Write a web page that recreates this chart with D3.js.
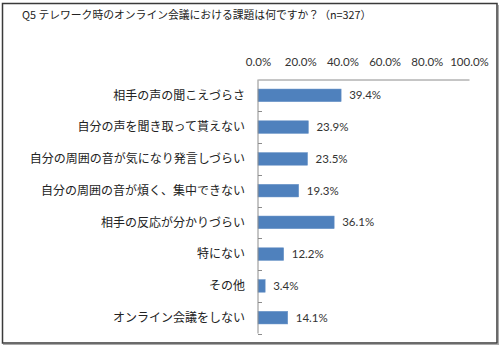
<!DOCTYPE html>
<html><head><meta charset="utf-8">
<script src="https://cdn.jsdelivr.net/npm/d3@7"></script>
<style>
html,body{margin:0;padding:0;background:#fff;}
svg{display:block;}
</style></head>
<body>
<svg id="chart" width="500" height="347"></svg>
<script>
const title = "Q5 テレワーク時のオンライン会議における課題は何ですか？（n=327）";
const categories = ["相手の声の聞こえづらさ","自分の声を聞き取って貰えない","自分の周囲の音が気になり発言しづらい","自分の周囲の音が煩く、集中できない","相手の反応が分かりづらい","特にない","その他","オンライン会議をしない"];
const values = [39.4, 23.9, 23.5, 19.3, 36.1, 12.2, 3.4, 14.1];
const tickValues = [0, 20, 40, 60, 80, 100];

const svg = d3.select("#chart");
const jp = "'Noto Sans CJK JP', sans-serif";
const num = "Lato, 'Noto Sans', sans-serif";

// frame
svg.append("rect").attr("x",2.5).attr("y",3.5).attr("width",494.5).attr("height",339.5)
  .attr("fill","#fff").attr("stroke","#3a3a3a").attr("stroke-width",1.5);
svg.append("line").attr("x1",3).attr("x2",498).attr("y1",344.5).attr("y2",344.5).attr("stroke","#aaa").attr("stroke-width",1);
svg.append("line").attr("x1",498.5).attr("x2",498.5).attr("y1",5).attr("y2",345).attr("stroke","#aaa").attr("stroke-width",1);

svg.append("text").attr("x",22).attr("y",19).attr("font-family",jp).attr("font-size",10.8)
  .attr("fill","#222").text(title);

const x = d3.scaleLinear().domain([0,100]).range([258,469]);
const y = d3.scaleBand().domain(categories).range([79.5,333.5]).paddingInner(0.6).paddingOuter(0.3);
const yb = d3.scaleBand().domain(categories).range([79.5,333.5]);

// top axis
const xa = svg.append("g").attr("transform","translate(0,79.5)")
  .call(d3.axisTop(x).tickValues(tickValues).tickSize(0).tickPadding(14).tickFormat(d=>d.toFixed(1)+"%"));
xa.select(".domain").attr("stroke","#8c8c8c");
xa.selectAll("text").attr("font-family",num).attr("font-size",11.5).attr("fill","#333");

// bars
svg.append("g").selectAll("rect").data(categories).join("rect")
  .attr("x",x(0)).attr("y",d=>y(d)).attr("width",(d,i)=>x(values[i])-x(0)).attr("height",y.bandwidth())
  .attr("fill","#4f81bd").attr("stroke","#6f97c9").attr("stroke-width",0.5);

// left axis
const ya = svg.append("g").attr("transform","translate(258,0)");
ya.append("line").attr("x1",0).attr("x2",0).attr("y1",79.5).attr("y2",333.5).attr("stroke","#8c8c8c");
ya.selectAll("line.t").data(categories).join("line").attr("class","t")
  .attr("x1",0).attr("x2",4).attr("y1",d=>Math.round(yb(d)+yb.bandwidth())+0.5).attr("y2",d=>Math.round(yb(d)+yb.bandwidth())+0.5)
  .attr("stroke","#8c8c8c");
ya.selectAll("text").data(categories).join("text")
  .attr("x",-13).attr("y",d=>yb(d)+yb.bandwidth()/2).attr("dy","0.35em")
  .attr("text-anchor","end").attr("font-family",jp).attr("font-size",12).attr("fill","#222").text(d=>d);

// value labels
svg.append("g").selectAll("text").data(categories).join("text")
  .attr("x",(d,i)=>x(values[i])+8).attr("y",d=>yb(d)+yb.bandwidth()/2).attr("dy","0.35em")
  .attr("font-family",num).attr("font-size",11.5).attr("fill","#333").text((d,i)=>values[i].toFixed(1)+"%");
</script>
</body></html>
